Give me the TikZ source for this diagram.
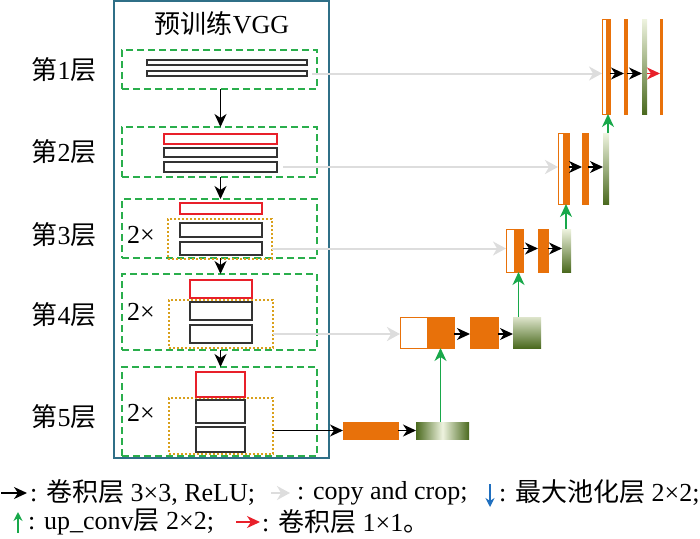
\documentclass[tikz,border=0pt]{standalone}
\usepackage{fontspec}
\setmainfont{Liberation Serif}
\newfontfamily\cjk{Noto Sans CJK SC}
\usetikzlibrary{arrows.meta}
\definecolor{vggc}{HTML}{2F6F87}
\definecolor{dashg}{HTML}{2AAE4C}
\definecolor{dotc}{HTML}{D9A01C}
\definecolor{redc}{HTML}{E8202A}
\definecolor{orc}{HTML}{E8710A}
\definecolor{gl}{HTML}{EEF3DF}
\definecolor{gd}{HTML}{4B6A1F}
\definecolor{grayc}{HTML}{DDDDDD}
\definecolor{upg}{HTML}{18A84A}
\definecolor{blu}{HTML}{1F6FBF}
\tikzset{
	blk/.style = {rectangle, inner sep=0pt, outer sep=0pt, anchor=north west},
	wh/.style 2 args = {minimum width=#1pt, minimum height=#2pt},
	vgg_box/.style = {blk, draw=vggc, line width=1.5pt},% encodeur VGG
	layer_box/.style = {blk, draw=dashg, dash pattern=on 7pt off 4pt,
		line width=1.5pt},% couche
	rep_box/.style = {blk, draw=dotc, dash pattern=on 2pt off 2pt,
		line width=1.5pt},% bloc repete 2x
	conv_k/.style = {blk, draw=black!80, fill=white, line width=1.3pt},% conv 3x3
	conv_r/.style = {blk, draw=redc, fill=white, line width=1.3pt},% conv pool
	up_w/.style = {blk, draw=orc, fill=white, line width=1pt},% copie
	up_o/.style = {blk, draw=orc, fill=orc},% carte orange
	up_g/.style = {blk, top color=gl, bottom color=gd},% carte verte
	copy_arr/.style = {-{Stealth[length=13pt,width=14pt,inset=4pt]},
		draw=grayc, line width=2pt},
	conv_arr/.style = {-{Stealth[length=13pt,width=12pt,inset=4pt]},
		line width=1.3pt},
	up_arr/.style = {-{Stealth[length=13pt,width=12pt,inset=4pt]},
		draw=upg, line width=1.4pt}
}
\begin{document}
\begin{tikzpicture}[x=1pt, y=-1pt, font=\fontsize{26}{30}\selectfont]
\useasboundingbox (0,0) rectangle (700,538);
% encodeur
\node[vgg_box, wh={215}{457}] (vgg) at (114,1) {};
\node (title) at (222,24) {{\cjk 预训练}VGG};
\node (lab1) at (64,70) {{\cjk 第}1{\cjk 层}};
\node (lab2) at (64,152) {{\cjk 第}2{\cjk 层}};
\node (lab3) at (64,235) {{\cjk 第}3{\cjk 层}};
\node (lab4) at (64,315) {{\cjk 第}4{\cjk 层}};
\node (lab5) at (64,417) {{\cjk 第}5{\cjk 层}};
\node[layer_box, wh={195}{39}] (g1) at (122,50) {};
\node[layer_box, wh={195}{50}] (g2) at (122,127) {};
\node[layer_box, wh={195}{59}] (g3) at (122,199) {};
\node[layer_box, wh={195}{76}] (g4) at (122,274) {};
\node[layer_box, wh={195}{89}] (g5) at (122,367) {};
\node[rep_box, wh={104}{40}] (d3) at (168,219) {};
\node[rep_box, wh={104}{48}] (d4) at (169,300) {};
\node[rep_box, wh={104}{56}] (d5) at (169,398) {};
\node (rep3) at (141,235) {2×};
\node (rep4) at (141,312) {2×};
\node (rep5) at (141,413) {2×};
\node[conv_k, wh={160}{5}] (b1a) at (147,60) {};
\node[conv_k, wh={160}{5}] (b1b) at (147,71) {};
\node[conv_r, wh={113}{10}] (r2) at (164,134) {};
\node[conv_k, wh={113}{9}] (b2a) at (164,148) {};
\node[conv_k, wh={113}{10}] (b2b) at (164,162) {};
\node[conv_r, wh={82}{11}] (r3) at (180,203) {};
\node[conv_k, wh={82}{14}] (b3a) at (180,223) {};
\node[conv_k, wh={82}{13}] (b3b) at (180,242) {};
\node[conv_r, wh={62}{18}] (r4) at (190,280) {};
\node[conv_k, wh={62}{18}] (b4a) at (190,302) {};
\node[conv_k, wh={62}{18}] (b4b) at (190,325) {};
\node[conv_r, wh={49}{25}] (r5) at (196,372) {};
\node[conv_k, wh={49}{23}] (b5a) at (196,400) {};
\node[conv_k, wh={49}{25}] (b5b) at (196,427) {};
\draw[conv_arr] (g1.south -| r2) -- (g2.north -| r2);
\draw[conv_arr] (g2.south -| r2) -- (g3.north -| r2);
\draw[conv_arr] (g3.south -| r2) -- (g4.north -| r2);
\draw[conv_arr] (g4.south -| r2) -- (g5.north -| r2);
% decodeur
\node[up_o, wh={55}{17}] (o5) at (343,422) {};
\node[up_g, wh={53}{17}, left color=gd, right color=gd, middle color=gl] (gr5) at (416,422) {};
\node[up_w, wh={27}{31}] (w4) at (400,317) {};
\node[up_o, wh={27}{31}] (o4) at (427,317) {};
\node[up_o, wh={28}{31}] (o4b) at (470,317) {};
\node[up_g, wh={28}{31}, top color=gl!90!gd, bottom color=gd] (gr4) at (513,317) {};
\node[up_w, wh={8}{43}] (w3) at (506,229) {};
\node[up_o, wh={9}{43}] (o3) at (514,229) {};
\node[up_o, wh={10}{43}] (o3b) at (538,229) {};
\node[up_g, wh={9}{43}] (gr3) at (562,229) {};
\node[up_w, wh={5}{71}] (w2) at (558,133) {};
\node[up_o, wh={6}{71}] (o2) at (563,133) {};
\node[up_o, wh={6}{71}] (o2b) at (582,133) {};
\node[up_g, wh={6}{71}] (gr2) at (603,133) {};
\node[up_w, wh={4}{95}] (w1) at (602,19) {};
\node[up_o, wh={4}{95}] (o1) at (606,19) {};
\node[up_o, wh={3}{95}] (o1b) at (624,19) {};
\node[up_g, wh={5}{95}] (gr1) at (642,19) {};
\node[up_o, wh={2}{95}] (o1c) at (660,19) {};
% copy and crop
\draw[copy_arr] (b1b.east) ++(5,0) -- (w1.west |- b1b);
\draw[copy_arr] (b2b.east) ++(6,0) -- (w2.west |- b2b);
\draw[copy_arr] (d3.east |- b3b) -- (w3.west |- b3b);
\draw[copy_arr] (d4.east |- b4b) -- (w4.west |- b4b);
% conv
\draw[conv_arr] (d5.east |- o5) -- (o5.west);
\draw[conv_arr] (o5.east) -- (gr5.west);
\draw[conv_arr] (o4.east |- b4b) -- (o4b.west |- b4b);
\draw[conv_arr] (o4b.east |- b4b) -- (gr4.west |- b4b);
\draw[conv_arr] (o3.east |- b3b) -- (o3b.west |- b3b);
\draw[conv_arr] (o3b.east |- b3b) -- (gr3.west |- b3b);
\draw[conv_arr] (o2.east |- b2b) -- (o2b.west |- b2b);
\draw[conv_arr] (o2b.east |- b2b) -- (gr2.west |- b2b);
\draw[conv_arr] (o1.east |- b1b) -- (o1b.west |- b1b);
\draw[conv_arr] (o1b.east |- b1b) -- (gr1.west |- b1b);
\draw[conv_arr, draw=redc, fill=redc] (gr1.east |- b1b) -- (o1c.west |- b1b);
% up_conv
\draw[up_arr] (o4 |- gr5.north) -- (o4.south);
\draw[up_arr] (o3 |- gr4.north) -- (o3.south);
\draw[up_arr] (o2 |- gr3.north) -- (o2.south);
\draw[up_arr] (o1 |- gr2.north) -- (o1.south);
% legende
\node[anchor=west, inner sep=0pt] (leg1) at (30,493) {: {\cjk 卷积层} 3×3, ReLU;};
\node[anchor=west, inner sep=0pt] (leg2) at (297,493) {: copy and crop;};
\node[anchor=west, inner sep=0pt] (leg3) at (499,493) {: {\cjk 最大池化层} 2×2;};
\node[anchor=west, inner sep=0pt] (leg4) at (28,522) {: up\_conv{\cjk 层} 2×2;};
\node[anchor=west, inner sep=0pt] (leg5) at (262,522) {: {\cjk 卷积层} 1×1{\cjk 。}};
\draw[conv_arr] ([xshift=-29pt]leg1.west) -- ([xshift=-3pt]leg1.west);
\draw[copy_arr, line width=1.5pt] ([xshift=-26pt]leg2.west) -- ([xshift=-7pt]leg2.west);
\draw[-{Stealth[length=9pt,width=9pt,inset=3pt]}, draw=blu, fill=blu, line width=1.3pt]
	([xshift=-9pt,yshift=9pt]leg3.west) -- ([xshift=-9pt,yshift=-14pt]leg3.west);
\draw[up_arr, -{Stealth[length=9pt,width=9pt,inset=3pt]}, fill=upg]
	([xshift=-10pt,yshift=-11pt]leg4.west) -- ([xshift=-10pt,yshift=10pt]leg4.west);
\draw[conv_arr, draw=redc, fill=redc] ([xshift=-26pt]leg5.west) -- ([xshift=-2pt]leg5.west);
\end{tikzpicture}
\end{document}
